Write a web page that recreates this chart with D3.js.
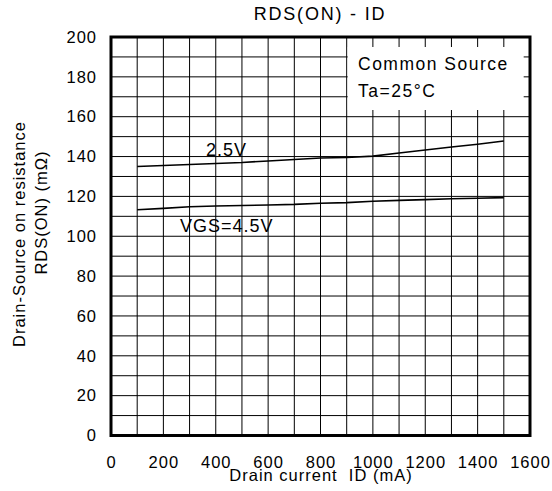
<!DOCTYPE html>
<html>
<head>
<meta charset="utf-8">
<script src="https://cdn.jsdelivr.net/npm/d3@7/dist/d3.min.js"></script>
<style>
  html, body { margin: 0; padding: 0; background: #fff; }
  svg { display: block; font-family: "Liberation Sans", Arial, sans-serif; }
  text { fill: #000; white-space: pre; }
</style>
</head>
<body>
<svg id="chart" width="552" height="491"></svg>
<script>
// Drain current (mA) at which the curves are sampled
const drainCurrent = [100, 200, 300, 400, 500, 600, 700, 800, 900, 1000, 1100, 1200, 1300, 1400, 1500];
// On-resistance RDS(ON) in mΩ for each gate-source voltage
const rdsVgs25 = [135, 135.5, 136, 136.5, 137, 137.8, 138.5, 139.3, 139.5, 140.2, 141.8, 143.3, 144.8, 146.2, 147.8];
const rdsVgs45 = [113.3, 114, 114.8, 115.2, 115.4, 115.7, 116, 116.6, 116.9, 117.6, 118, 118.4, 118.8, 119.1, 119.4];
const seriesLabels = ["2.5V", "VGS=4.5V"];
// Axis ticks
const xTickValues = [0, 200, 400, 600, 800, 1000, 1200, 1400, 1600];
const yTickValues = [0, 20, 40, 60, 80, 100, 120, 140, 160, 180, 200];
const xGridValues = d3.range(0, 1601, 100);
const yGridValues = d3.range(0, 201, 10);
const chartTitle = "RDS(ON) - ID";
const xTitle = "Drain current  ID (mA)";
const yTitleLines = ["Drain-Source on resistance", "RDS(ON) (mΩ)"];
const noteLines = ["Common Source", "Ta=25°C"];

const svg = d3.select("#chart");
const plot = { left: 111, right: 530, top: 37, bottom: 435.5 };

const x = d3.scaleLinear().domain([0, 1600]).range([plot.left, plot.right]);
const y = d3.scaleLinear().domain([0, 200]).range([plot.bottom, plot.top]);

// grid
const grid = svg.append("g").attr("stroke", "#000").attr("stroke-width", 1);
grid.selectAll("line.v").data(xGridValues).join("line").attr("class", "v")
  .attr("x1", d => x(d)).attr("x2", d => x(d)).attr("y1", plot.top).attr("y2", plot.bottom);
grid.selectAll("line.h").data(yGridValues).join("line").attr("class", "h")
  .attr("x1", plot.left).attr("x2", plot.right).attr("y1", d => y(d)).attr("y2", d => y(d));

// curves
const line = d3.line().x(d => x(d[0])).y(d => y(d[1]));
[rdsVgs25, rdsVgs45].forEach(vals => {
  svg.append("path")
    .datum(drainCurrent.map((c, i) => [c, vals[i]]))
    .attr("d", line)
    .attr("fill", "none")
    .attr("stroke", "#000")
    .attr("stroke-width", 1.6);
});

// condition note box (blanks the grid behind it)
svg.append("rect").attr("x", x(900) + 1).attr("y", 47).attr("width", 176).attr("height", 63).attr("fill", "#fff");
svg.selectAll("text.note").data(noteLines).join("text").attr("class", "note")
  .attr("x", 358).attr("y", (d, i) => 69.5 + i * 27)
  .attr("font-size", 17.5).attr("letter-spacing", 1.5)
  .text(d => d);

// frame
svg.append("rect").attr("x", plot.left).attr("y", plot.top)
  .attr("width", plot.right - plot.left).attr("height", plot.bottom - plot.top)
  .attr("fill", "none").attr("stroke", "#000").attr("stroke-width", 3);

// axes (labels only; the frame and grid carry the lines)
const xAxis = d3.axisBottom(x).tickValues(xTickValues).tickSize(0).tickPadding(0).tickFormat(d3.format("d"));
const gx = svg.append("g").attr("transform", `translate(0,${plot.bottom})`).call(xAxis);
gx.select(".domain").remove();
gx.selectAll("text").attr("font-size", 16.5).attr("letter-spacing", 1).attr("font-family", null)
  .attr("dy", null).attr("y", 32);

const yAxis = d3.axisLeft(y).tickValues(yTickValues).tickSize(0).tickPadding(0).tickFormat(d3.format("d"));
const gy = svg.append("g").attr("transform", `translate(${plot.left - 14},0)`).call(yAxis);
gy.select(".domain").remove();
gy.selectAll("text").attr("font-size", 16.5).attr("letter-spacing", 1).attr("font-family", null);
svg.selectAll(".tick text").attr("fill", "#000");
svg.attr("font-family", null);

// curve labels
svg.append("text").attr("x", 206).attr("y", 156).attr("font-size", 18).attr("letter-spacing", 1).text(seriesLabels[0]);
svg.append("text").attr("x", 180).attr("y", 231.5).attr("font-size", 18).attr("letter-spacing", 1).text(seriesLabels[1]);

// titles
svg.append("text").attr("x", 320).attr("y", 20).attr("text-anchor", "middle")
  .attr("font-size", 18).attr("letter-spacing", 1.8).text(chartTitle);
svg.append("text").attr("x", 321).attr("y", 481).attr("text-anchor", "middle")
  .attr("font-size", 16.5).attr("letter-spacing", 1).text(xTitle);
svg.append("text").attr("transform", "translate(25,234) rotate(-90)").attr("text-anchor", "middle")
  .attr("font-size", 16.5).attr("letter-spacing", 1).text(yTitleLines[0]);
svg.append("text").attr("transform", "translate(46.5,212.5) rotate(-90)").attr("text-anchor", "middle")
  .attr("font-size", 16.5).attr("letter-spacing", 1).text(yTitleLines[1]);
</script>
</body>
</html>
